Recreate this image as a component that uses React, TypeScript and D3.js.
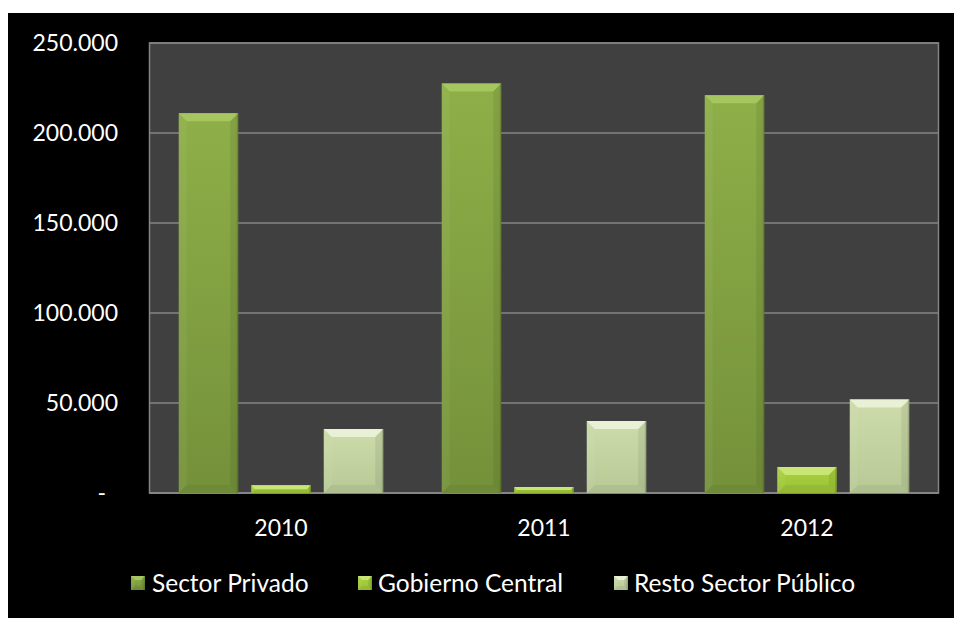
import React from 'react';
import * as d3 from 'd3';

const years = ['2010', '2011', '2012'];
const seriesNames = ['Sector Privado', 'Gobierno Central', 'Resto Sector Público'];
const sectorPrivado = [211000, 227500, 221000];
const gobiernoCentral = [4300, 3300, 14400];
const restoSectorPublico = [35500, 40000, 52000];
const yTicks = [0, 50000, 100000, 150000, 200000, 250000];

const seriesValues = [sectorPrivado, gobiernoCentral, restoSectorPublico];

const palette = [
  { top: '#8eaf48', bottom: '#74913a', bevel: '#a6c660' },
  { top: '#aad13f', bottom: '#9cc237', bevel: '#c8e673' },
  { top: '#cddcaa', bottom: '#b8c996', bevel: '#e8f0d6' },
];

const loc = d3.formatLocale({ decimal: ',', thousands: '.', grouping: [3], currency: ['', ''] });
const fmt = loc.format(',.0f');

const FONT = 'Lato, "Open Sans", sans-serif';

function Bevel({ x, y, w, h, i, b0 }: { x: number; y: number; w: number; h: number; i: number; b0: number }) {
  const b = Math.max(0, Math.min(b0, h / 2, w / 2));
  const pts = (a: number[][]) => a.map((p) => p.join(',')).join(' ');
  return (
    <g>
      <rect x={x} y={y} width={w} height={h} fill={`url(#grad${i})`} />
      <polygon points={pts([[x, y], [x + w, y], [x + w - b, y + b], [x + b, y + b]])} fill={palette[i].bevel} />
      <polygon points={pts([[x, y], [x + b, y + b], [x + b, y + h - b], [x, y + h]])} fill="#ffffff" opacity={0.05} />
      <polygon points={pts([[x + w, y], [x + w - b, y + b], [x + w - b, y + h - b], [x + w, y + h]])} fill="#000000" opacity={0.07} />
      <polygon points={pts([[x, y + h], [x + b, y + h - b], [x + w - b, y + h - b], [x + w, y + h]])} fill="#000000" opacity={0.05} />
      <rect x={x + w - 1.5} y={y} width={1.5} height={h} fill="#000" opacity={0.15} />
    </g>
  );
}

export default function App() {
  const left = 149.5, right = 938.5, top = 43, bottom = 493;
  const x0 = d3.scaleBand<string>().domain(years).range([left, right]).padding(0);
  const x1 = d3.scaleBand<string>().domain(seriesNames).range([0, x0.bandwidth()]).paddingInner(0.179).paddingOuter(0.403);
  const y = d3.scaleLinear().domain([0, 250000]).range([bottom, top]);

  const legendItems = [
    { name: seriesNames[0], mx: 131, tx: 152 },
    { name: seriesNames[1], mx: 358, tx: 378 },
    { name: seriesNames[2], mx: 614, tx: 634 },
  ];

  return (
    <svg width={946} height={605} style={{ position: 'absolute', left: 8, top: 13 }}>
      <defs>
        {palette.map((p, i) => (
          <linearGradient key={i} id={`grad${i}`} x1="0" y1="0" x2="0" y2="1">
            <stop offset="0" stopColor={p.top} />
            <stop offset="1" stopColor={p.bottom} />
          </linearGradient>
        ))}
      </defs>
      <g transform="translate(-8,-13)">
        <rect x={8} y={13} width={946} height={605} fill="#000" />
        <rect x={left} y={top} width={right - left} height={bottom - top} fill="#404040" stroke="#858585" strokeWidth={1.5} />
        {yTicks.map((t) => (
          <g key={t}>
            <line x1={left} x2={right} y1={y(t)} y2={y(t)} stroke="#858585" strokeWidth={t === 0 ? 2 : 1.5} />
            <text
              x={t === 0 ? 106 : 118}
              y={y(t)}
              dy="0.35em"
              textAnchor="end"
              fill="#fff"
              fontFamily={FONT}
              fontSize={23}
            >
              {t === 0 ? '-' : fmt(t)}
            </text>
          </g>
        ))}
        {years.map((yr, yi) => (
          <g key={yr}>
            {seriesNames.map((s, si) => {
              const v = seriesValues[si][yi];
              const bx = (x0(yr) as number) + (x1(s) as number);
              const by = y(v);
              return <Bevel key={s} x={bx} y={by} w={x1.bandwidth()} h={bottom - by} i={si} b0={8} />;
            })}
            <text
              x={(x0(yr) as number) + x0.bandwidth() / 2}
              y={528}
              dy="0.35em"
              textAnchor="middle"
              fill="#fff"
              fontFamily={FONT}
              fontSize={23}
            >
              {yr}
            </text>
          </g>
        ))}
        {legendItems.map((it, i) => (
          <g key={it.name}>
            <Bevel x={it.mx} y={576} w={14} h={14} i={i} b0={4} />
            <text x={it.tx} y={583} dy="0.35em" fill="#fff" fontFamily={FONT} fontSize={24.5}>
              {it.name}
            </text>
          </g>
        ))}
      </g>
    </svg>
  );
}
